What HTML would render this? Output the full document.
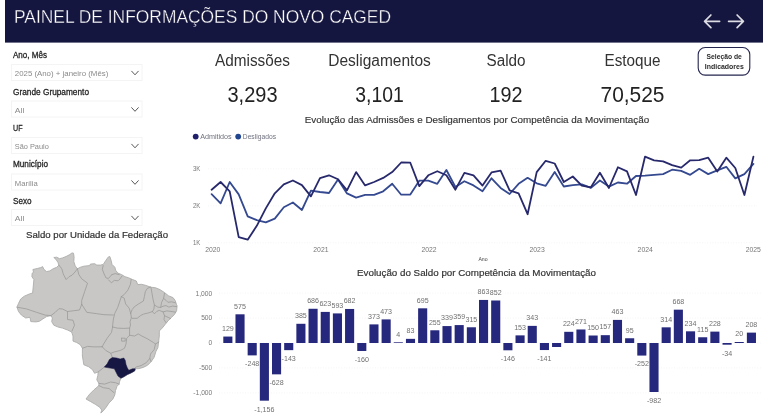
<!DOCTYPE html>
<html><head><meta charset="utf-8"><title>Painel CAGED</title>
<style>
html,body{margin:0;padding:0;background:#fff;}
body{width:768px;height:416px;overflow:hidden;}
svg{display:block;font-family:"Liberation Sans",sans-serif;}
</style></head><body>
<svg width="768" height="416" viewBox="0 0 768 416">
<rect width="768" height="416" fill="#ffffff"/>
<rect x="5" y="0" width="758" height="42.6" fill="#15163f"/>
<g style="filter:blur(0.3px)">
<rect x="5" y="2" width="758" height="39" fill="#15163f"/>
<text x="14" y="23.2" font-size="18.2" fill="#ffffff" textLength="377" lengthAdjust="spacingAndGlyphs" stroke="#15163f" stroke-width="0.35">PAINEL DE INFORMAÇÕES DO NOVO CAGED</text>
<path d="M719.6,21.3 H704.6 M710.9,15.0 L704.6,21.3 L710.9,27.6" fill="none" stroke="#dcdce4" stroke-width="1.7" stroke-linecap="round" stroke-linejoin="round"/>
<path d="M728.6,21.3 H743.4 M737.1,15.0 L743.4,21.3 L737.1,27.6" fill="none" stroke="#dcdce4" stroke-width="1.7" stroke-linecap="round" stroke-linejoin="round"/>
<rect x="698.2" y="47.5" width="51.6" height="27.6" rx="7" ry="7" fill="#fff" stroke="#25264f" stroke-width="1.1"/>
<text x="724.2" y="59.0" font-size="7.5" fill="#2a2a2a" text-anchor="middle" font-weight="bold" textLength="35.2" lengthAdjust="spacingAndGlyphs">Seleção de</text>
<text x="724.3" y="69.3" font-size="7.5" fill="#2a2a2a" text-anchor="middle" font-weight="bold" textLength="39" lengthAdjust="spacingAndGlyphs">Indicadores</text>
<text x="13" y="58.2" font-size="8.5" fill="#252525" textLength="34" lengthAdjust="spacingAndGlyphs" stroke="#252525" stroke-width="0.28">Ano, Mês</text>
<text x="13" y="94.7" font-size="8.5" fill="#252525" textLength="76" lengthAdjust="spacingAndGlyphs" stroke="#252525" stroke-width="0.28">Grande Grupamento</text>
<text x="13" y="130.7" font-size="8.5" fill="#252525" textLength="9.5" lengthAdjust="spacingAndGlyphs" stroke="#252525" stroke-width="0.28">UF</text>
<text x="13" y="167.2" font-size="8.5" fill="#252525" textLength="35" lengthAdjust="spacingAndGlyphs" stroke="#252525" stroke-width="0.28">Município</text>
<text x="13" y="203.5" font-size="8.5" fill="#252525" textLength="18.5" lengthAdjust="spacingAndGlyphs" stroke="#252525" stroke-width="0.28">Sexo</text>
<rect x="11.5" y="64.5" width="130.5" height="16" fill="#fff" stroke="#f4f4f4" stroke-width="1"/>
<text x="14.8" y="76.1" font-size="8" fill="#8a8a8a" textLength="93.5" lengthAdjust="spacingAndGlyphs">2025 (Ano) + janeiro (Mês)</text>
<path d="M131.7,71.19999999999999 L135,74.8 L138.3,71.19999999999999" fill="none" stroke="#444" stroke-width="0.9" stroke-linecap="round" stroke-linejoin="round"/>
<rect x="11.5" y="101" width="130.5" height="16" fill="#fff" stroke="#f4f4f4" stroke-width="1"/>
<text x="14.8" y="112.6" font-size="8" fill="#8a8a8a" textLength="9.5" lengthAdjust="spacingAndGlyphs">All</text>
<path d="M131.7,107.69999999999999 L135,111.3 L138.3,107.69999999999999" fill="none" stroke="#444" stroke-width="0.9" stroke-linecap="round" stroke-linejoin="round"/>
<rect x="11.5" y="137.5" width="130.5" height="16" fill="#fff" stroke="#f4f4f4" stroke-width="1"/>
<text x="14.8" y="149.1" font-size="8" fill="#8a8a8a" textLength="34" lengthAdjust="spacingAndGlyphs">São Paulo</text>
<path d="M131.7,144.2 L135,147.79999999999998 L138.3,144.2" fill="none" stroke="#444" stroke-width="0.9" stroke-linecap="round" stroke-linejoin="round"/>
<rect x="11.5" y="174" width="130.5" height="16" fill="#fff" stroke="#f4f4f4" stroke-width="1"/>
<text x="14.8" y="185.6" font-size="8" fill="#8a8a8a" textLength="23" lengthAdjust="spacingAndGlyphs">Marília</text>
<path d="M131.7,180.7 L135,184.29999999999998 L138.3,180.7" fill="none" stroke="#444" stroke-width="0.9" stroke-linecap="round" stroke-linejoin="round"/>
<rect x="11.5" y="209.5" width="130.5" height="16" fill="#fff" stroke="#f4f4f4" stroke-width="1"/>
<text x="14.8" y="221.1" font-size="8" fill="#8a8a8a" textLength="9.5" lengthAdjust="spacingAndGlyphs">All</text>
<path d="M131.7,216.2 L135,219.79999999999998 L138.3,216.2" fill="none" stroke="#444" stroke-width="0.9" stroke-linecap="round" stroke-linejoin="round"/>
<text x="97" y="238.3" font-size="9.6" fill="#333" text-anchor="middle" textLength="142" lengthAdjust="spacingAndGlyphs" stroke="#333" stroke-width="0.2">Saldo por Unidade da Federação</text>
<text x="252.5" y="65.6" font-size="16" fill="#333" text-anchor="middle" textLength="75" lengthAdjust="spacingAndGlyphs">Admissões</text>
<text x="252.5" y="101.5" font-size="22" fill="#222" text-anchor="middle" textLength="50" lengthAdjust="spacingAndGlyphs">3,293</text>
<text x="379.5" y="65.6" font-size="16" fill="#333" text-anchor="middle" textLength="102.5" lengthAdjust="spacingAndGlyphs">Desligamentos</text>
<text x="379.5" y="101.5" font-size="22" fill="#222" text-anchor="middle" textLength="48.5" lengthAdjust="spacingAndGlyphs">3,101</text>
<text x="506" y="65.6" font-size="16" fill="#333" text-anchor="middle" textLength="39" lengthAdjust="spacingAndGlyphs">Saldo</text>
<text x="506" y="101.5" font-size="22" fill="#222" text-anchor="middle" textLength="33" lengthAdjust="spacingAndGlyphs">192</text>
<text x="632.5" y="65.6" font-size="16" fill="#333" text-anchor="middle" textLength="56" lengthAdjust="spacingAndGlyphs">Estoque</text>
<text x="632.5" y="101.5" font-size="22" fill="#222" text-anchor="middle" textLength="64" lengthAdjust="spacingAndGlyphs">70,525</text>
<text x="477" y="123.2" font-size="9.4" fill="#333" text-anchor="middle" textLength="344.5" lengthAdjust="spacingAndGlyphs" stroke="#333" stroke-width="0.15">Evolução das Admissões e Desligamentos por Competência da Movimentação</text>
<text x="476.5" y="275.7" font-size="9.4" fill="#333" text-anchor="middle" textLength="239" lengthAdjust="spacingAndGlyphs" stroke="#333" stroke-width="0.18">Evolução do Saldo por Competência da Movimentação</text>
<circle cx="195.7" cy="136.6" r="2.9" fill="#1f1f6c"/>
<text x="200.2" y="139.1" font-size="7" fill="#70727e" textLength="31.5" lengthAdjust="spacingAndGlyphs">Admitidos</text>
<circle cx="238.2" cy="136.6" r="2.9" fill="#21458f"/>
<text x="242.8" y="139.1" font-size="7" fill="#70727e" textLength="33.2" lengthAdjust="spacingAndGlyphs">Desligados</text>
<line x1="208" x2="757" y1="168.8" y2="168.8" stroke="#f3f3f3" stroke-width="0.8" stroke-dasharray="1,1.6"/>
<text x="193" y="171.4" font-size="7" fill="#777" textLength="7.4" lengthAdjust="spacingAndGlyphs">3K</text>
<line x1="208" x2="757" y1="205.8" y2="205.8" stroke="#f3f3f3" stroke-width="0.8" stroke-dasharray="1,1.6"/>
<text x="193" y="208.4" font-size="7" fill="#777" textLength="7.4" lengthAdjust="spacingAndGlyphs">2K</text>
<line x1="208" x2="757" y1="242.8" y2="242.8" stroke="#f3f3f3" stroke-width="0.8" stroke-dasharray="1,1.6"/>
<text x="193" y="245.4" font-size="7" fill="#777" textLength="7.4" lengthAdjust="spacingAndGlyphs">1K</text>
<text x="212.8" y="252.3" font-size="6.8" fill="#777" text-anchor="middle" textLength="15.2" lengthAdjust="spacingAndGlyphs">2020</text>
<text x="320.9" y="252.3" font-size="6.8" fill="#777" text-anchor="middle" textLength="15.2" lengthAdjust="spacingAndGlyphs">2021</text>
<text x="429.0" y="252.3" font-size="6.8" fill="#777" text-anchor="middle" textLength="15.2" lengthAdjust="spacingAndGlyphs">2022</text>
<text x="537.1" y="252.3" font-size="6.8" fill="#777" text-anchor="middle" textLength="15.2" lengthAdjust="spacingAndGlyphs">2023</text>
<text x="645.2" y="252.3" font-size="6.8" fill="#777" text-anchor="middle" textLength="15.2" lengthAdjust="spacingAndGlyphs">2024</text>
<text x="753.3" y="252.3" font-size="6.8" fill="#777" text-anchor="middle" textLength="15.2" lengthAdjust="spacingAndGlyphs">2025</text>
<text x="483" y="260.6" font-size="6.2" fill="#444" text-anchor="middle" textLength="9.2" lengthAdjust="spacingAndGlyphs">Ano</text>
<polyline points="211.6,194.1 220.6,203.3 229.7,182.0 238.7,194.4 247.7,216.3 256.8,220.1 265.8,222.4 274.8,218.6 283.8,207.3 292.9,202.5 301.9,210.0 310.9,190.7 320.0,192.0 329.0,193.0 338.0,179.4 347.0,193.4 356.1,197.6 365.1,194.9 374.1,194.8 383.2,191.3 392.2,183.7 401.2,194.7 410.3,194.6 419.3,180.7 428.3,180.7 437.3,183.8 446.4,170.0 455.4,187.0 464.4,181.2 473.5,185.4 482.5,191.3 491.5,178.3 500.6,187.9 509.6,194.0 518.6,183.8 527.6,177.8 536.7,183.3 545.7,185.8 554.7,172.0 563.8,186.5 572.8,185.1 581.8,184.4 590.9,187.9 599.9,180.5 608.9,186.6 617.9,182.5 627.0,183.7 636.0,176.0 645.0,175.7 654.1,174.8 663.1,174.1 672.1,169.7 681.2,170.9 690.2,174.8 699.2,168.8 708.2,174.1 717.3,170.4 726.3,166.8 735.3,178.4 744.4,174.1 753.4,163.9" fill="none" stroke="#344990" stroke-width="1.8" stroke-linejoin="round" stroke-linecap="round"/>
<polyline points="211.6,189.7 220.6,182.0 229.7,191.4 238.7,237.1 247.7,239.7 256.8,225.8 265.8,208.4 274.8,193.3 283.8,184.4 292.9,180.5 301.9,185.1 310.9,196.4 320.0,178.1 329.0,175.3 338.0,179.3 347.0,190.4 356.1,172.1 365.1,185.4 374.1,182.0 383.2,177.9 392.2,172.1 401.2,162.5 410.3,162.7 419.3,186.1 428.3,175.3 437.3,171.2 446.4,175.3 455.4,189.7 464.4,172.8 473.5,175.3 482.5,185.6 491.5,172.4 500.6,170.7 509.6,190.4 518.6,193.3 527.6,214.2 536.7,172.1 545.7,160.8 554.7,163.5 563.8,182.0 572.8,176.5 581.8,185.6 590.9,187.3 599.9,172.8 608.9,188.0 617.9,167.3 627.0,171.4 636.0,195.0 645.0,156.7 654.1,160.3 663.1,161.3 672.1,165.2 681.2,167.6 690.2,160.3 699.2,160.1 708.2,157.7 717.3,171.6 726.3,157.7 735.3,168.0 744.4,195.0 753.4,156.7" fill="none" stroke="#27296c" stroke-width="1.8" stroke-linejoin="round" stroke-linecap="round"/>
<line x1="219" x2="761.5" y1="293.1" y2="293.1" stroke="#f3f3f3" stroke-width="0.8" stroke-dasharray="1,1.6"/>
<text x="212.3" y="295.5" font-size="6.7" fill="#777" text-anchor="end">1,000</text>
<line x1="219" x2="761.5" y1="318.1" y2="318.1" stroke="#f3f3f3" stroke-width="0.8" stroke-dasharray="1,1.6"/>
<text x="212.3" y="320.4" font-size="6.7" fill="#777" text-anchor="end">500</text>
<line x1="219" x2="761.5" y1="343.0" y2="343.0" stroke="#f3f3f3" stroke-width="0.8" stroke-dasharray="1,1.6"/>
<text x="212.3" y="345.4" font-size="6.7" fill="#777" text-anchor="end">0</text>
<line x1="219" x2="761.5" y1="367.9" y2="367.9" stroke="#f3f3f3" stroke-width="0.8" stroke-dasharray="1,1.6"/>
<text x="212.3" y="370.3" font-size="6.7" fill="#777" text-anchor="end">-500</text>
<line x1="219" x2="761.5" y1="392.9" y2="392.9" stroke="#f3f3f3" stroke-width="0.8" stroke-dasharray="1,1.6"/>
<text x="212.3" y="395.3" font-size="6.7" fill="#777" text-anchor="end">-1,000</text>
<rect x="223.30" y="336.56" width="9.1" height="6.44" fill="#26287d"/>
<text x="227.9" y="330.8" font-size="7.1" fill="#707070" text-anchor="middle">129</text>
<rect x="235.48" y="314.31" width="9.1" height="28.69" fill="#26287d"/>
<text x="240.0" y="308.5" font-size="7.1" fill="#707070" text-anchor="middle">575</text>
<rect x="247.65" y="343.00" width="9.1" height="12.38" fill="#26287d"/>
<text x="252.2" y="366.2" font-size="7.1" fill="#707070" text-anchor="middle">-248</text>
<rect x="259.83" y="343.00" width="9.1" height="57.68" fill="#26287d"/>
<text x="264.4" y="411.5" font-size="7.1" fill="#707070" text-anchor="middle">-1,156</text>
<rect x="272.00" y="343.00" width="9.1" height="31.34" fill="#26287d"/>
<text x="276.6" y="385.1" font-size="7.1" fill="#707070" text-anchor="middle">-628</text>
<rect x="284.18" y="343.00" width="9.1" height="7.14" fill="#26287d"/>
<text x="288.7" y="360.9" font-size="7.1" fill="#707070" text-anchor="middle">-143</text>
<rect x="296.36" y="323.79" width="9.1" height="19.21" fill="#26287d"/>
<text x="300.9" y="318.0" font-size="7.1" fill="#707070" text-anchor="middle">385</text>
<rect x="308.53" y="308.77" width="9.1" height="34.23" fill="#26287d"/>
<text x="313.1" y="303.0" font-size="7.1" fill="#707070" text-anchor="middle">686</text>
<rect x="320.71" y="311.91" width="9.1" height="31.09" fill="#26287d"/>
<text x="325.3" y="306.1" font-size="7.1" fill="#707070" text-anchor="middle">623</text>
<rect x="332.88" y="313.41" width="9.1" height="29.59" fill="#26287d"/>
<text x="337.4" y="307.6" font-size="7.1" fill="#707070" text-anchor="middle">593</text>
<rect x="345.06" y="308.97" width="9.1" height="34.03" fill="#26287d"/>
<text x="349.6" y="303.2" font-size="7.1" fill="#707070" text-anchor="middle">682</text>
<rect x="357.24" y="343.00" width="9.1" height="7.98" fill="#26287d"/>
<text x="361.8" y="361.8" font-size="7.1" fill="#707070" text-anchor="middle">-160</text>
<rect x="369.41" y="324.39" width="9.1" height="18.61" fill="#26287d"/>
<text x="374.0" y="318.6" font-size="7.1" fill="#707070" text-anchor="middle">373</text>
<rect x="381.59" y="319.40" width="9.1" height="23.60" fill="#26287d"/>
<text x="386.1" y="313.6" font-size="7.1" fill="#707070" text-anchor="middle">473</text>
<rect x="393.76" y="342.30" width="9.1" height="0.70" fill="#26287d"/>
<text x="398.3" y="336.5" font-size="7.1" fill="#707070" text-anchor="middle">4</text>
<rect x="405.94" y="338.86" width="9.1" height="4.14" fill="#26287d"/>
<text x="410.5" y="333.1" font-size="7.1" fill="#707070" text-anchor="middle">83</text>
<rect x="418.12" y="308.32" width="9.1" height="34.68" fill="#26287d"/>
<text x="422.7" y="302.5" font-size="7.1" fill="#707070" text-anchor="middle">695</text>
<rect x="430.29" y="330.28" width="9.1" height="12.72" fill="#26287d"/>
<text x="434.8" y="324.5" font-size="7.1" fill="#707070" text-anchor="middle">255</text>
<rect x="442.47" y="326.08" width="9.1" height="16.92" fill="#26287d"/>
<text x="447.0" y="320.3" font-size="7.1" fill="#707070" text-anchor="middle">339</text>
<rect x="454.64" y="325.09" width="9.1" height="17.91" fill="#26287d"/>
<text x="459.2" y="319.3" font-size="7.1" fill="#707070" text-anchor="middle">359</text>
<rect x="466.82" y="327.28" width="9.1" height="15.72" fill="#26287d"/>
<text x="471.4" y="321.5" font-size="7.1" fill="#707070" text-anchor="middle">315</text>
<rect x="479.00" y="299.94" width="9.1" height="43.06" fill="#26287d"/>
<text x="483.5" y="294.1" font-size="7.1" fill="#707070" text-anchor="middle">863</text>
<rect x="491.17" y="300.49" width="9.1" height="42.51" fill="#26287d"/>
<text x="495.7" y="294.7" font-size="7.1" fill="#707070" text-anchor="middle">852</text>
<rect x="503.35" y="343.00" width="9.1" height="7.29" fill="#26287d"/>
<text x="507.9" y="361.1" font-size="7.1" fill="#707070" text-anchor="middle">-146</text>
<rect x="515.52" y="335.37" width="9.1" height="7.63" fill="#26287d"/>
<text x="520.1" y="329.6" font-size="7.1" fill="#707070" text-anchor="middle">153</text>
<rect x="527.70" y="325.88" width="9.1" height="17.12" fill="#26287d"/>
<text x="532.2" y="320.1" font-size="7.1" fill="#707070" text-anchor="middle">343</text>
<rect x="539.88" y="343.00" width="9.1" height="7.04" fill="#26287d"/>
<text x="544.4" y="360.8" font-size="7.1" fill="#707070" text-anchor="middle">-141</text>
<rect x="552.05" y="343.00" width="9.1" height="3.99" fill="#26287d"/>
<rect x="564.23" y="331.82" width="9.1" height="11.18" fill="#26287d"/>
<text x="568.8" y="326.0" font-size="7.1" fill="#707070" text-anchor="middle">224</text>
<rect x="576.40" y="329.48" width="9.1" height="13.52" fill="#26287d"/>
<text x="581.0" y="323.7" font-size="7.1" fill="#707070" text-anchor="middle">271</text>
<rect x="588.58" y="335.51" width="9.1" height="7.49" fill="#26287d"/>
<text x="593.1" y="329.7" font-size="7.1" fill="#707070" text-anchor="middle">150</text>
<rect x="600.76" y="335.17" width="9.1" height="7.83" fill="#26287d"/>
<text x="605.3" y="329.4" font-size="7.1" fill="#707070" text-anchor="middle">157</text>
<rect x="612.93" y="319.90" width="9.1" height="23.10" fill="#26287d"/>
<text x="617.5" y="314.1" font-size="7.1" fill="#707070" text-anchor="middle">463</text>
<rect x="625.11" y="338.26" width="9.1" height="4.74" fill="#26287d"/>
<text x="629.7" y="332.5" font-size="7.1" fill="#707070" text-anchor="middle">95</text>
<rect x="637.28" y="343.00" width="9.1" height="12.57" fill="#26287d"/>
<text x="641.8" y="366.4" font-size="7.1" fill="#707070" text-anchor="middle">-252</text>
<rect x="649.46" y="343.00" width="9.1" height="49.00" fill="#26287d"/>
<text x="654.0" y="402.8" font-size="7.1" fill="#707070" text-anchor="middle">-982</text>
<rect x="661.64" y="327.33" width="9.1" height="15.67" fill="#26287d"/>
<text x="666.2" y="321.5" font-size="7.1" fill="#707070" text-anchor="middle">314</text>
<rect x="673.81" y="309.67" width="9.1" height="33.33" fill="#26287d"/>
<text x="678.4" y="303.9" font-size="7.1" fill="#707070" text-anchor="middle">668</text>
<rect x="685.99" y="331.32" width="9.1" height="11.68" fill="#26287d"/>
<text x="690.5" y="325.5" font-size="7.1" fill="#707070" text-anchor="middle">234</text>
<rect x="698.16" y="337.26" width="9.1" height="5.74" fill="#26287d"/>
<text x="702.7" y="331.5" font-size="7.1" fill="#707070" text-anchor="middle">115</text>
<rect x="710.34" y="331.62" width="9.1" height="11.38" fill="#26287d"/>
<text x="714.9" y="325.8" font-size="7.1" fill="#707070" text-anchor="middle">228</text>
<rect x="722.52" y="343.00" width="9.1" height="1.70" fill="#26287d"/>
<text x="727.1" y="355.5" font-size="7.1" fill="#707070" text-anchor="middle">-34</text>
<rect x="734.69" y="342.00" width="9.1" height="1.00" fill="#26287d"/>
<text x="739.2" y="336.2" font-size="7.1" fill="#707070" text-anchor="middle">20</text>
<rect x="746.87" y="332.62" width="9.1" height="10.38" fill="#26287d"/>
<text x="751.4" y="326.8" font-size="7.1" fill="#707070" text-anchor="middle">208</text>
<path d="M17.0,307.2 L18.5,303.4 L20.7,299.0 L24.3,296.2 L29.3,294.0 L32.6,293.0 L33.3,286.0 L33.9,279.6 L31.9,276.7 L32.2,273.1 L33.6,272.4 L32.9,269.5 L37.2,268.5 L40.8,267.6 L42.6,266.6 L44.0,269.5 L46.6,271.6 L49.8,270.9 L53.1,268.8 L56.7,267.3 L58.9,265.1 L57.9,262.3 L56.0,259.4 L53.8,257.5 L56.7,257.2 L59.6,258.7 L62.5,257.9 L66.1,256.5 L69.7,254.6 L72.0,252.9 L73.5,253.2 L74.1,257.2 L73.8,261.5 L75.2,265.9 L77.4,268.8 L80.3,267.3 L83.9,266.2 L89.6,265.6 L90.4,264.1 L94.7,263.7 L96.8,265.1 L100.5,265.1 L103.3,264.4 L105.8,260.4 L108.4,256.9 L109.8,256.5 L111.0,260.1 L112.0,264.4 L114.9,267.3 L115.6,270.2 L117.8,273.1 L121.4,274.5 L125.0,276.7 L128.3,277.7 L132.7,279.6 L136.3,281.0 L137.7,284.6 L141.3,284.3 L145.6,285.3 L150.7,287.2 L155.7,287.8 L160.1,289.7 L164.4,292.5 L168.7,295.9 L173.0,297.6 L175.2,300.5 L176.6,304.8 L177.1,305.8 L176.6,310.8 L174.5,314.4 L171.6,317.3 L168.0,320.9 L165.1,324.5 L162.2,328.1 L159.3,331.0 L159.3,336.1 L158.6,341.8 L157.9,347.6 L156.0,351.2 L154.1,357.3 L151.2,361.6 L147.6,365.2 L143.3,367.4 L138.9,368.6 L135.3,368.8 L134.6,371.0 L131.0,372.9 L127.4,374.6 L123.8,376.8 L120.9,378.2 L119.5,381.8 L119.1,384.1 L117.0,386.3 L115.5,390.6 L114.8,394.9 L112.7,399.3 L109.0,402.9 L106.2,407.2 L103.3,410.8 L100.8,413.0 L101.8,410.1 L99.7,407.2 L95.3,404.3 L90.3,401.4 L86.0,399.0 L89.6,394.2 L93.9,389.9 L98.9,385.6 L98.9,383.4 L96.8,379.8 L97.8,375.5 L98.2,371.9 L94.6,373.3 L92.5,369.7 L88.8,366.8 L83.8,364.7 L83.1,360.3 L82.4,356.0 L82.4,353.4 L82.4,348.3 L80.3,344.7 L76.7,342.5 L73.0,341.1 L73.0,336.0 L71.6,332.0 L67.5,330.0 L62.5,328.1 L58.2,327.1 L53.8,325.2 L51.7,321.6 L52.4,318.0 L50.9,315.6 L46.6,316.6 L43.0,318.8 L39.4,321.3 L35.8,321.9 L30.8,321.6 L30.0,317.3 L25.7,318.0 L21.4,315.1 L18.5,311.5Z" fill="#c8c7c5" stroke="#adadac" stroke-width="0.9" stroke-linejoin="round"/>
<g fill="none" stroke="#9b9b9b" stroke-width="0.8" stroke-linejoin="round" stroke-linecap="round">
<path d="M17.0,307.2 L26.4,308.9 L36.5,312.3 L45.2,315.1 L50.9,315.6"/>
<path d="M50.9,315.6 L55.3,312.3 L58.9,308.7 L62.5,309.0 L67.5,311.5 L79.5,310.0 L81.7,304.3"/>
<path d="M67.5,311.5 L67.5,319.5 L73.0,320.2 L74.5,325.2 L72.0,331.0"/>
<path d="M58.9,265.1 L61.8,268.8 L63.2,273.8 L66.1,279.6 L69.0,276.7 L72.0,275.2 L75.0,272.0 L77.4,268.8"/>
<path d="M77.4,268.8 L78.8,274.5 L81.7,278.8 L87.5,283.2 L84.6,291.8 L81.7,300.5 L81.7,304.3"/>
<path d="M81.7,304.3 L86.8,312.3 L96.8,313.7 L104.0,314.7 L113.4,315.0"/>
<path d="M131.2,279.4 L130.4,284.4 L127.8,290.2 L124.2,294.5 L121.3,296.7"/>
<path d="M121.3,296.7 L119.9,301.0 L117.7,307.5 L114.8,313.3 L113.4,319.0 L112.7,324.8 L112.6,327.0"/>
<path d="M112.6,327.0 L111.5,332.4 L107.2,338.2 L103.6,344.0 L102.2,346.8"/>
<path d="M82.4,348.3 L87.5,346.4 L94.0,346.9 L102.2,346.8"/>
<path d="M102.2,346.8 L105.8,350.5 L110.8,353.3 L112.3,357.4"/>
<path d="M112.6,327.0 L117.3,328.1 L123.8,328.4 L129.6,328.1"/>
<path d="M121.3,296.7 L124.2,298.1 L125.6,303.9 L129.2,308.2 L130.7,313.3"/>
<path d="M130.7,313.3 L131.4,317.6 L130.0,321.9 L130.5,325.0 L129.6,328.1 L129.6,335.3"/>
<path d="M150.6,286.9 L147.2,288.5 L145.3,291.7 L144.4,296.5 L143.4,301.0 L138.6,303.9 L134.3,306.8 L132.1,309.7 L130.7,313.3"/>
<path d="M151.0,287.6 L152.0,293.4 L153.0,299.2 L154.4,305.0 L153.9,309.0 L152.4,311.6"/>
<path d="M152.4,311.6 L148.2,313.0 L143.8,314.0 L140.8,315.4 L137.2,318.3 L132.1,318.3 L131.4,317.6"/>
<path d="M152.4,311.6 L154.4,313.8 L156.8,311.4 L159.2,310.4 L163.1,311.9 L166.9,310.9 L170.8,311.4 L175.6,312.2"/>
<path d="M154.4,305.0 L157.8,307.1 L160.7,307.4 L161.6,302.3 L163.6,298.4 L164.5,293.2"/>
<path d="M163.6,298.4 L166.0,300.3 L167.9,302.3 L171.7,301.8 L175.4,302.8"/>
<path d="M160.7,307.4 L163.0,306.2 L166.0,305.6 L168.8,307.1 L172.7,306.1 L176.6,306.6"/>
<path d="M163.1,311.9 L164.5,315.7 L168.8,317.7 L170.5,318.6"/>
<path d="M164.5,315.7 L164.0,319.6 L166.0,322.6"/>
<path d="M129.6,335.3 L134.6,336.0 L138.2,333.9 L141.8,336.0 L147.6,338.9 L153.4,342.5 L155.5,344.0 L158.8,342.0"/>
<path d="M129.6,335.3 L126.7,338.2 L126.0,344.0 L124.5,348.3 L120.2,350.5 L114.4,351.9 L110.8,353.3"/>
<path d="M121.6,338.2 L125.2,338.2 L125.2,341.1 L121.6,341.1 L121.6,338.2"/>
<path d="M155.5,344.0 L154.1,349.7 L150.5,354.0 L149.8,358.4 L151.0,361.5"/>
<path d="M149.8,358.4 L146.2,362.7 L141.1,365.6 L136.1,367.0 L134.6,368.5"/>
<path d="M98.9,383.4 L104.7,384.1 L110.5,382.0 L115.5,382.7 L119.1,384.1"/>
<path d="M98.9,385.6 L103.3,387.7 L109.0,388.5 L114.1,392.8"/>
<path d="M98.2,371.9 L101.0,369.7 L104.3,367.1"/>
<path d="M103.2,265.5 L102.3,269.3 L104.2,274.1 L106.1,278.0 L108.5,278.4 L111.9,274.6"/>
<path d="M108.5,279.9 L111.4,282.8 L114.3,280.4 L118.1,280.8 L120.0,278.9 L122.0,276.0"/>
<path d="M111.9,274.6 L115.2,273.6 L119.1,274.6"/>
</g>
<path d="M104.3,367.1 L107.2,363.8 L109.4,359.5 L112.3,357.6 L116.6,358.0 L120.2,359.0 L123.8,358.0 L125.2,360.2 L126.0,364.5 L127.4,368.1 L128.8,370.3 L132.5,368.8 L135.3,368.8 L134.6,371.0 L131.0,372.9 L127.4,374.6 L123.8,376.8 L120.9,378.2 L118.0,376.1 L116.2,372.5 L114.4,368.8 L110.1,368.1Z" fill="#161743" stroke="#161743" stroke-width="0.5" stroke-linejoin="round"/>
</g>
</svg>
</body></html>
